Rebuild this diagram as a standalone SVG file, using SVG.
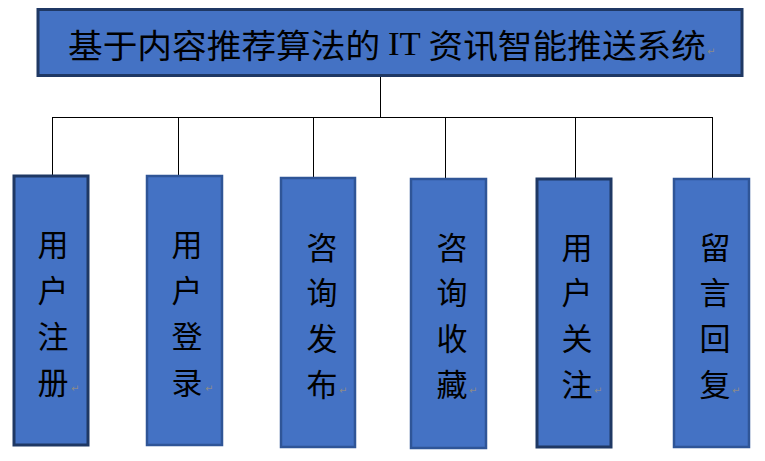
<svg xmlns="http://www.w3.org/2000/svg" width="765" height="461" viewBox="0 0 765 461">
<style>
.box{fill:#4472C4;}
.dark{stroke:#1F3864;stroke-width:3;}
.mid{stroke:#2F5597;stroke-width:2.5;}
.t{font-family:"Noto Sans CJK SC","Liberation Serif",serif;font-size:31px;fill:#000;text-anchor:middle;dominant-baseline:central;}
.mark{font-family:"DejaVu Sans",sans-serif;font-size:10px;fill:#8a8a8a;}
.conn{stroke:#000;stroke-width:1;fill:none;}
</style>
<rect width="765" height="461" fill="#fff"/>
<g id="connectors">
<path class="conn" d="M380.5 76V117.5M52.5 117.5H712.5M52.5 117V176M178.5 117V176M313.5 117V178M445.5 117V178M575.5 117V179M712.5 117V179"/>
</g>
<g id="root">
<rect class="box dark" x="38" y="9.5" width="704" height="66"/>
<text x="68" y="44" font-family="Noto Sans CJK SC,Liberation Serif,serif" font-size="33" dominant-baseline="central" textLength="638" lengthAdjust="spacingAndGlyphs">基于内容推荐算法的 <tspan font-family="Liberation Serif,serif">IT</tspan> 资讯智能推送系统</text>
<text class="mark" x="707" y="55">↵</text>
</g>
<g id="n1">
<rect class="box dark" x="14" y="176" width="74" height="269"/>
<text class="t" x="53" y="242">用</text><text class="t" x="53" y="288">户</text><text class="t" x="53" y="334">注</text><text class="t" x="53" y="380">册</text>
<text class="mark" x="71" y="392">↵</text>
</g>
<g id="n2">
<rect class="box mid" x="147" y="176" width="75" height="269"/>
<text class="t" x="187" y="242">用</text><text class="t" x="187" y="288">户</text><text class="t" x="187" y="334">登</text><text class="t" x="187" y="380">录</text>
<text class="mark" x="205" y="392">↵</text>
</g>
<g id="n3">
<rect class="box mid" x="281" y="178" width="74" height="269"/>
<text class="t" x="322" y="245">咨</text><text class="t" x="322" y="290">询</text><text class="t" x="322" y="336">发</text><text class="t" x="322" y="382">布</text>
<text class="mark" x="339" y="394">↵</text>
</g>
<g id="n4">
<rect class="box mid" x="411" y="179" width="75" height="269"/>
<text class="t" x="452" y="245">咨</text><text class="t" x="452" y="290">询</text><text class="t" x="452" y="336">收</text><text class="t" x="452" y="382">藏</text>
<text class="mark" x="469" y="394">↵</text>
</g>
<g id="n5">
<rect class="box dark" x="537" y="179" width="74" height="268"/>
<text class="t" x="577" y="245">用</text><text class="t" x="577" y="290">户</text><text class="t" x="577" y="336">关</text><text class="t" x="577" y="382">注</text>
<text class="mark" x="594" y="394">↵</text>
</g>
<g id="n6">
<rect class="box mid" x="674" y="179" width="75" height="268"/>
<text class="t" x="715" y="245">留</text><text class="t" x="715" y="290">言</text><text class="t" x="715" y="336">回</text><text class="t" x="715" y="382">复</text>
<text class="mark" x="732" y="394">↵</text>
</g>
</svg>
